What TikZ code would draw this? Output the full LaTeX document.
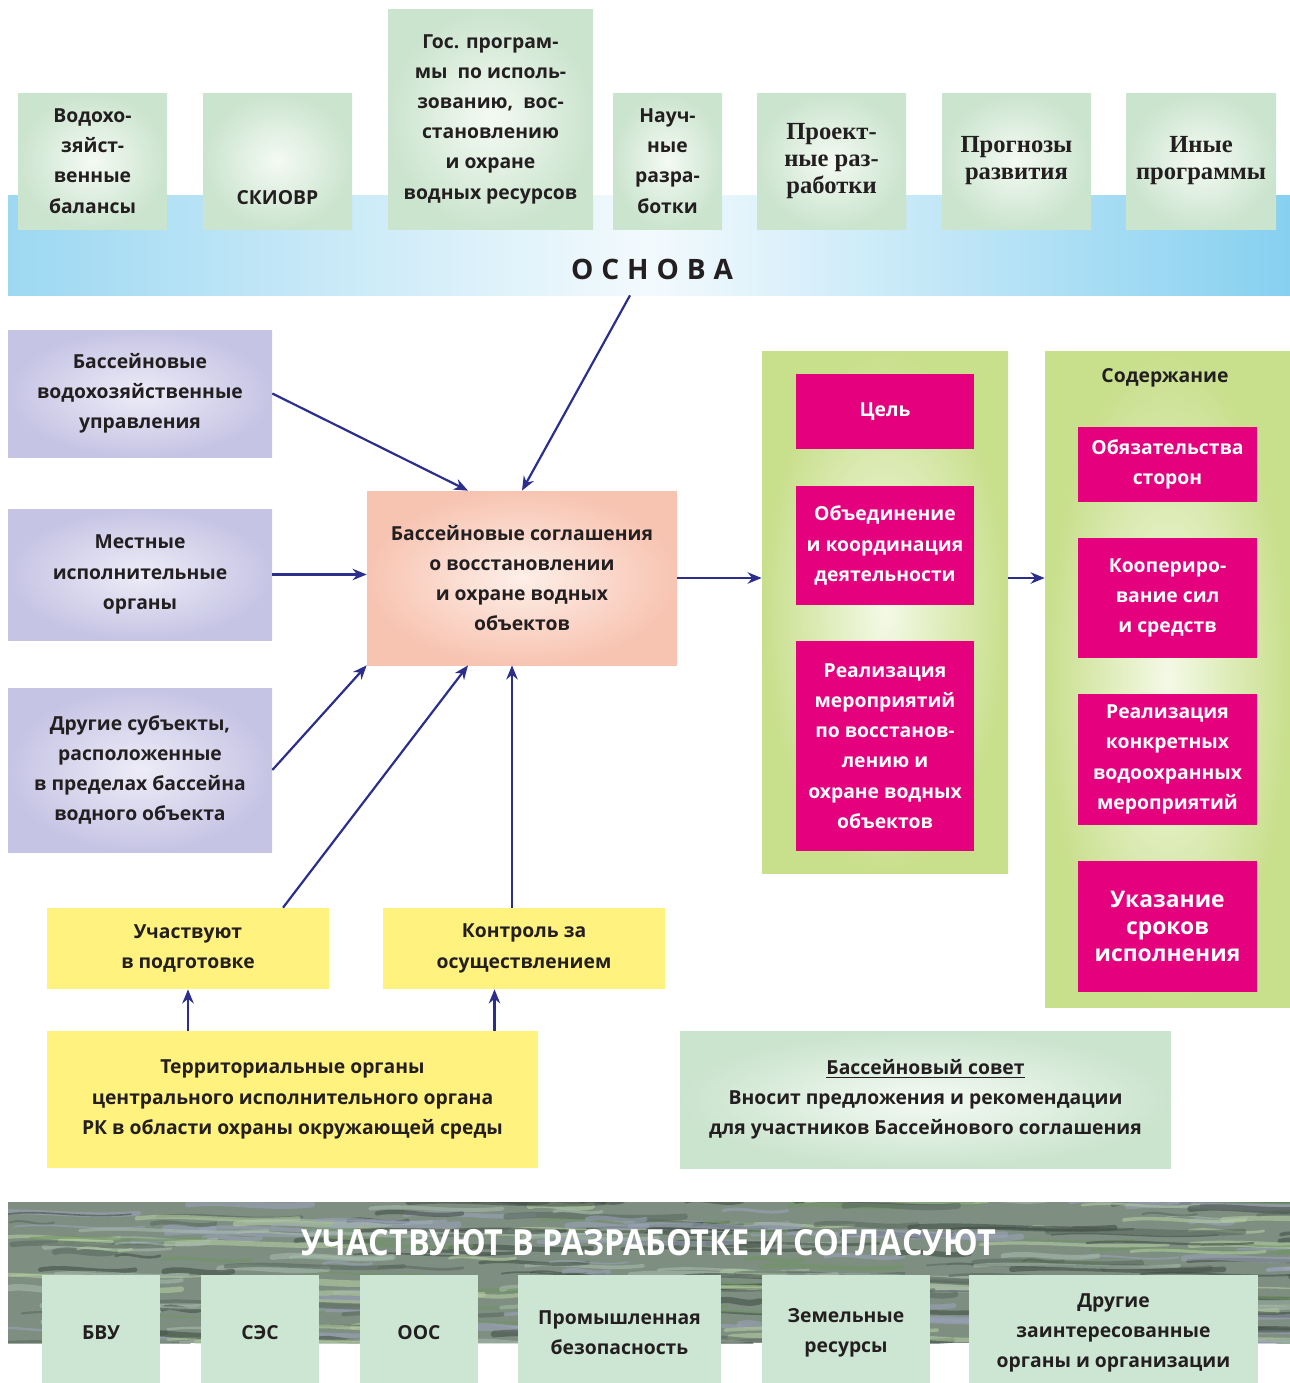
\documentclass[tikz,border=0pt]{standalone}
\usepackage{fontspec}
\setmainfont{Open Sans}
\newfontfamily\timesbf{Liberation Serif}
\newfontfamily\narrowsans[FakeStretch=0.9]{Open Sans}
\newfontfamily\widesans[LetterSpace=28]{Open Sans}
\usetikzlibrary{arrows.meta,calc}

\definecolor{txt}{HTML}{231F20}
\definecolor{arrblue}{HTML}{2B2E8C}
\definecolor{grin}{HTML}{F4FAF3}
\definecolor{grout}{HTML}{CBE4CE}
\definecolor{lavin}{HTML}{EDECF7}
\definecolor{lavout}{HTML}{C6C4E4}
\definecolor{peachin}{HTML}{FDEFE8}
\definecolor{peachout}{HTML}{F8C4B2}
\definecolor{limein}{HTML}{F4F9E6}
\definecolor{limeout}{HTML}{C8DF8C}
\definecolor{magenta}{HTML}{E5007E}
\definecolor{yell}{HTML}{FFF27E}
\definecolor{botbox}{HTML}{CDE6D3}
\definecolor{blueL}{HTML}{9DD8F2}
\definecolor{blueM}{HTML}{F3FAFD}
\definecolor{blueR}{HTML}{86D0F0}
\definecolor{bandbase}{HTML}{7E8F82}
\definecolor{bandA}{HTML}{56665A}
\definecolor{bandB}{HTML}{A9BDAE}
\definecolor{bandC}{HTML}{6F9460}
\definecolor{bandD}{HTML}{9CA3BC}
\definecolor{bandE}{HTML}{3E4A42}
\definecolor{bandF}{HTML}{B7D1A2}

\tikzset{
  sz/.style 2 args={minimum width=#1*0.02cm, minimum height=#2*0.02cm},
  base/.style={inner sep=0pt, align=center, text=txt, font=\fontsize{11}{17.2}\selectfont\bfseries},
  topbox/.style={base, inner color=grin, outer color=grout},
  serifbox/.style={topbox, font=\timesbf\fontsize{14}{15.3}\selectfont\bfseries},
  lavbox/.style={base, inner color=lavin, outer color=lavout},
  peachbox/.style={base, inner color=peachin, outer color=peachout},
  limepanel/.style={base, inner color=limein, outer color=limeout},
  pinkbox/.style={base, fill=magenta, text=white},
  yellbox/.style={base, fill=yell},
  sovetbox/.style={base, inner color=grin, outer color=grout},
  lowbox/.style={base, fill=botbox},
  arr/.style={draw=arrblue, line width=1.25pt, -{Stealth[length=8pt,width=6.5pt]}},
}

\begin{document}
\begin{tikzpicture}[x=0.02cm,y=-0.02cm]
\useasboundingbox (0,0) rectangle (1290,1383);%
% blue band
\node[sz={1282}{100}, inner sep=0pt, left color=blueL, right color=blueR, middle color=blueM] (band) at (649,245) {};%
\node[font=\widesans\fontsize{16}{18}\selectfont\bfseries, text=txt] (osnovatxt) at (652,269) {ОСНОВА};%
% top row
\node[topbox, sz={149}{136}] (bal) at (92.5,161) {Водохо-\\зяйст-\\венные\\балансы};%
\node[topbox, sz={149}{136}] (skiovr) at (277.5,161) {};%
\node[base] (skiovrtxt) at ($(skiovr)+(0,37)$) {СКИОВР};%
\node[topbox, sz={205}{220}] (gosprog) at (490.5,119) {Гос. програм-\\мы\ \ по исполь-\\зованию,\ \ вос-\\становлению\\и охране\\водных ресурсов};%
\node[topbox, sz={109}{136}] (nauch) at (667.5,161) {Науч-\\ные\\разра-\\ботки};%
\node[serifbox, sz={149}{136}] (proekt) at (831.5,161) {Проект-\\ные раз-\\работки};%
\node[serifbox, sz={149}{136}] (prognoz) at (1016.5,161) {Прогнозы\\развития};%
\node[serifbox, sz={150}{136}] (inye) at (1201,161) {Иные\\программы};%
% left column
\node[lavbox, sz={264}{127}] (bvu) at (140,393.5) {Бассейновые\\водохозяйственные\\управления};%
\node[lavbox, sz={264}{131}] (mest) at (140,574.5) {Местные\\исполнительные\\органы};%
\node[lavbox, sz={264}{164}] (drug) at (140,770) {Другие субъекты,\\расположенные\\в пределах бассейна\\водного объекта};%
% centre
\node[peachbox, sz={310}{174}] (dogovor) at (522,578) {Бассейновые соглашения\\о восстановлении\\и охране водных\\объектов};%
% yellow boxes
\node[yellbox, sz={282}{81}] (uchast) at (188,948.5) {Участвуют\\в подготовке};%
\node[yellbox, sz={282}{81}] (kontrol) at (524,948.5) {Контроль за\\осуществлением};%
\node[yellbox, sz={491}{137}] (terr) at (292.5,1099.5) {Территориальные органы\\центрального исполнительного органа\\РК в области охраны окружающей среды};%
% right panels
\node[limepanel, sz={246}{522}] (celi) at (885,612) {};%
\node[pinkbox, sz={178}{75}] (tsel) at (885,411.5) {Цель};%
\node[pinkbox, sz={178}{119}] (obed) at (885,545.5) {Объединение\\и координация\\деятельности};%
\node[pinkbox, sz={178}{210}] (realiz) at (885,746) {Реализация\\мероприятий\\по восстанов-\\лению и\\охране водных\\объектов};%
\node[limepanel, sz={245}{656}] (soder) at (1167.5,679) {};%
\node[base] (sodertxt) at (1165,378) {Содержание};%
\node[pinkbox, sz={179}{75}] (obyaz) at (1167.5,464.5) {Обязательства\\сторон};%
\node[pinkbox, sz={179}{120}] (koop) at (1167.5,598) {Коопериро-\\вание сил\\и средств};%
\node[pinkbox, sz={179}{131}] (konkr) at (1167.5,759.5) {Реализация\\конкретных\\водоохранных\\мероприятий};%
\node[pinkbox, sz={179}{131}, font=\fontsize{13}{15.5}\selectfont\bfseries] (ukaz) at (1167.5,926.5) {Указание\\сроков\\исполнения};%
% council
\node[sovetbox, sz={491}{137}] (sovet) at (925.5,1099.5) {\underline{Бассейновый совет}\\Вносит предложения и рекомендации\\для участников Бассейнового соглашения};%
% bottom textured band
\begin{scope}
\clip (8,1202) rectangle (1290,1343);%
\fill[bandbase] (8,1202) rectangle (1290,1343);%
\pgfmathsetseed{11}%
\pgfmathdeclarerandomlist{bandcols}{{bandA}{bandB}{bandC}{bandD}{bandE}{bandF}}%
\foreach \i in {1,...,320}{%
  \pgfmathsetmacro\xa{rnd*1320-20}%
  \pgfmathsetmacro\ya{1198+rnd*150}%
  \pgfmathsetmacro\len{40+rnd*180}%
  \pgfmathsetmacro\lw{0.8+rnd*3}%
  \pgfmathrandomitem\col{bandcols}%
  \draw[\col, line width=\lw pt, opacity=0.55, line cap=round] (\xa,\ya) .. controls (\xa+0.3*\len,\ya-5) and (\xa+0.6*\len,\ya+5) .. (\xa+\len,\ya);%
}
\end{scope}
\node[font=\narrowsans\fontsize{20.5}{22}\selectfont\bfseries, text=white] (bandtitle) at (649,1243) {УЧАСТВУЮТ В РАЗРАБОТКЕ И СОГЛАСУЮТ};%
\node[lowbox, sz={118}{116}] (bvu2) at (101,1333) {БВУ};%
\node[lowbox, sz={118}{116}] (ses) at (260,1333) {СЭС};%
\node[lowbox, sz={118}{116}] (oos) at (419,1333) {ООС};%
\node[lowbox, sz={203}{116}] (prom) at (619.5,1333) {Промышленная\\безопасность};%
\node[lowbox, sz={168}{116}] (zemel) at (846,1333) {Земельные\\ресурсы};%
\node[lowbox, sz={289}{116}] (drugie) at (1113.5,1333) {Другие\\заинтересованные\\органы и организации};%
% arrows
\draw[arr] (bvu.east) -- ($(dogovor.north)+(-54,0)$);%
\draw[arr] ($(band.south)+(-19,0)$) -- (dogovor.north);%
\draw[arr] (mest.east) -- (dogovor.west |- mest.east);%
\draw[arr] (drug.east) -- (dogovor.south west);%
\draw[arr] ($(uchast.north)+(95,0)$) -- ($(dogovor.south)+(-54,0)$);%
\draw[arr] ($(kontrol.north)+(-12,0)$) coordinate (k1) -- (k1 |- dogovor.south);%
\draw[arr] (uchast.south |- terr.north) -- (uchast.south);%
\draw[arr] ($(terr.north)+(202,0)$) coordinate (t2) -- (t2 |- kontrol.south);%
\draw[arr] (dogovor.east) -- (dogovor.east -| celi.west);%
\draw[arr] (dogovor.east -| celi.east) -- (dogovor.east -| soder.west);%
\end{tikzpicture}
\end{document}
